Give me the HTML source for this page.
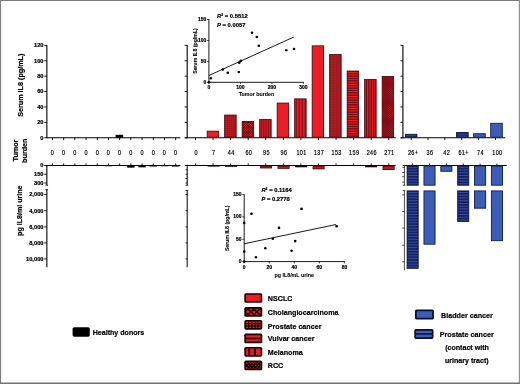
<!DOCTYPE html>
<html><head><meta charset="utf-8"><title>Figure</title>
<style>
html,body{margin:0;padding:0;background:#fff;}
body{width:520px;height:384px;overflow:hidden;font-family:"Liberation Sans",sans-serif;}
svg{display:block;font-family:"Liberation Sans",sans-serif;}
.b{font-weight:bold;stroke:#000;stroke-width:0.2px}
</style></head><body>
<svg width="520" height="384" viewBox="0 0 520 384">
<defs>
<pattern id="pgrid" width="1.6" height="1.6" patternUnits="userSpaceOnUse"><rect width="1.6" height="1.6" fill="#ee1c25"/><path d="M0 0.4H1.6M0.4 0V1.6" stroke="#4a0508" stroke-width="0.8"/></pattern>
<pattern id="pcross" width="2.2" height="2.2" patternUnits="userSpaceOnUse"><rect width="2.2" height="2.2" fill="#ee1c25"/><path d="M0 0L2.2 2.2M2.2 0L0 2.2" stroke="#4a0508" stroke-width="0.85"/></pattern>
<pattern id="pvert" width="2.4" height="4" patternUnits="userSpaceOnUse"><rect width="2.4" height="4" fill="#ee1c25"/><path d="M1.2 0V4" stroke="#4a0508" stroke-width="1"/></pattern>
<pattern id="pvert2" width="3" height="4" patternUnits="userSpaceOnUse"><rect width="3" height="4" fill="#ee1c25"/><path d="M1.5 0V4" stroke="#4a0508" stroke-width="1"/></pattern>
<pattern id="phorz" width="4" height="2.4" patternUnits="userSpaceOnUse"><rect width="4" height="2.4" fill="#ee1c25"/><path d="M0 1.2H4" stroke="#4a0508" stroke-width="1.1"/></pattern>
<pattern id="pxfine" width="1.6" height="1.6" patternUnits="userSpaceOnUse"><rect width="1.6" height="1.6" fill="#ee1c25"/><path d="M0 0L1.6 1.6M1.6 0L0 1.6" stroke="#4a0508" stroke-width="0.75"/></pattern>
<pattern id="pbh" width="4" height="2.6" patternUnits="userSpaceOnUse"><rect width="4" height="2.6" fill="#3c5cb8"/><path d="M0 1.3H4" stroke="#141c4a" stroke-width="1.7"/></pattern>
</defs>
<filter id="soft" x="0" y="0" width="520" height="384" filterUnits="userSpaceOnUse"><feGaussianBlur stdDeviation="0.4"/></filter>
<rect x="0" y="0" width="520" height="384" fill="#fff"/>
<g filter="url(#soft)">
<rect x="0" y="0" width="520" height="384" fill="#fff"/>

<line x1="46.85" y1="45.05" x2="46.85" y2="138.30" stroke="#000" stroke-width="1.1"/>
<line x1="44.25" y1="137.75" x2="46.85" y2="137.75" stroke="#000" stroke-width="0.9"/>
<text transform="translate(43.55 139.65) scale(0.9615 1)" font-size="5.98" text-anchor="end" class="b">0</text>
<line x1="44.25" y1="122.35" x2="46.85" y2="122.35" stroke="#000" stroke-width="0.9"/>
<text transform="translate(43.55 124.25) scale(0.9615 1)" font-size="5.98" text-anchor="end" class="b">20</text>
<line x1="44.25" y1="106.95" x2="46.85" y2="106.95" stroke="#000" stroke-width="0.9"/>
<text transform="translate(43.55 108.85) scale(0.9615 1)" font-size="5.98" text-anchor="end" class="b">40</text>
<line x1="44.25" y1="91.55" x2="46.85" y2="91.55" stroke="#000" stroke-width="0.9"/>
<text transform="translate(43.55 93.45) scale(0.9615 1)" font-size="5.98" text-anchor="end" class="b">60</text>
<line x1="44.25" y1="76.15" x2="46.85" y2="76.15" stroke="#000" stroke-width="0.9"/>
<text transform="translate(43.55 78.05) scale(0.9615 1)" font-size="5.98" text-anchor="end" class="b">80</text>
<line x1="44.25" y1="60.75" x2="46.85" y2="60.75" stroke="#000" stroke-width="0.9"/>
<text transform="translate(43.55 62.65) scale(0.9615 1)" font-size="5.98" text-anchor="end" class="b">100</text>
<line x1="44.25" y1="45.35" x2="46.85" y2="45.35" stroke="#000" stroke-width="0.9"/>
<text transform="translate(43.55 47.25) scale(0.9615 1)" font-size="5.98" text-anchor="end" class="b">120</text>
<line x1="46.85" y1="137.75" x2="180.30" y2="137.75" stroke="#000" stroke-width="1.1"/>
<line x1="52.45" y1="137.75" x2="52.45" y2="140.05" stroke="#000" stroke-width="0.9"/>
<text transform="translate(52.55 154.70) scale(0.7812 1)" font-size="7.00" text-anchor="middle" stroke="#000" stroke-width="0.2" letter-spacing="0.5">0</text>
<line x1="63.65" y1="137.75" x2="63.65" y2="140.05" stroke="#000" stroke-width="0.9"/>
<text transform="translate(63.75 154.70) scale(0.7812 1)" font-size="7.00" text-anchor="middle" stroke="#000" stroke-width="0.2" letter-spacing="0.5">0</text>
<line x1="74.85" y1="137.75" x2="74.85" y2="140.05" stroke="#000" stroke-width="0.9"/>
<text transform="translate(74.95 154.70) scale(0.7812 1)" font-size="7.00" text-anchor="middle" stroke="#000" stroke-width="0.2" letter-spacing="0.5">0</text>
<line x1="86.05" y1="137.75" x2="86.05" y2="140.05" stroke="#000" stroke-width="0.9"/>
<text transform="translate(86.15 154.70) scale(0.7812 1)" font-size="7.00" text-anchor="middle" stroke="#000" stroke-width="0.2" letter-spacing="0.5">0</text>
<line x1="97.25" y1="137.75" x2="97.25" y2="140.05" stroke="#000" stroke-width="0.9"/>
<text transform="translate(97.35 154.70) scale(0.7812 1)" font-size="7.00" text-anchor="middle" stroke="#000" stroke-width="0.2" letter-spacing="0.5">0</text>
<line x1="108.45" y1="137.75" x2="108.45" y2="140.05" stroke="#000" stroke-width="0.9"/>
<text transform="translate(108.55 154.70) scale(0.7812 1)" font-size="7.00" text-anchor="middle" stroke="#000" stroke-width="0.2" letter-spacing="0.5">0</text>
<line x1="119.65" y1="137.75" x2="119.65" y2="140.05" stroke="#000" stroke-width="0.9"/>
<text transform="translate(119.75 154.70) scale(0.7812 1)" font-size="7.00" text-anchor="middle" stroke="#000" stroke-width="0.2" letter-spacing="0.5">0</text>
<line x1="130.85" y1="137.75" x2="130.85" y2="140.05" stroke="#000" stroke-width="0.9"/>
<text transform="translate(130.95 154.70) scale(0.7812 1)" font-size="7.00" text-anchor="middle" stroke="#000" stroke-width="0.2" letter-spacing="0.5">0</text>
<line x1="142.05" y1="137.75" x2="142.05" y2="140.05" stroke="#000" stroke-width="0.9"/>
<text transform="translate(142.15 154.70) scale(0.7812 1)" font-size="7.00" text-anchor="middle" stroke="#000" stroke-width="0.2" letter-spacing="0.5">0</text>
<line x1="153.25" y1="137.75" x2="153.25" y2="140.05" stroke="#000" stroke-width="0.9"/>
<text transform="translate(153.35 154.70) scale(0.7812 1)" font-size="7.00" text-anchor="middle" stroke="#000" stroke-width="0.2" letter-spacing="0.5">0</text>
<line x1="164.45" y1="137.75" x2="164.45" y2="140.05" stroke="#000" stroke-width="0.9"/>
<text transform="translate(164.55 154.70) scale(0.7812 1)" font-size="7.00" text-anchor="middle" stroke="#000" stroke-width="0.2" letter-spacing="0.5">0</text>
<line x1="175.65" y1="137.75" x2="175.65" y2="140.05" stroke="#000" stroke-width="0.9"/>
<text transform="translate(175.75 154.70) scale(0.7812 1)" font-size="7.00" text-anchor="middle" stroke="#000" stroke-width="0.2" letter-spacing="0.5">0</text>
<rect x="115.60" y="134.80" width="7.60" height="3.00" fill="#000"/>
<line x1="46.85" y1="165.45" x2="180.30" y2="165.45" stroke="#000" stroke-width="1.1"/>
<line x1="52.45" y1="163.45" x2="52.45" y2="165.45" stroke="#000" stroke-width="0.9"/>
<line x1="63.65" y1="163.45" x2="63.65" y2="165.45" stroke="#000" stroke-width="0.9"/>
<line x1="74.85" y1="163.45" x2="74.85" y2="165.45" stroke="#000" stroke-width="0.9"/>
<line x1="86.05" y1="163.45" x2="86.05" y2="165.45" stroke="#000" stroke-width="0.9"/>
<line x1="97.25" y1="163.45" x2="97.25" y2="165.45" stroke="#000" stroke-width="0.9"/>
<line x1="108.45" y1="163.45" x2="108.45" y2="165.45" stroke="#000" stroke-width="0.9"/>
<line x1="119.65" y1="163.45" x2="119.65" y2="165.45" stroke="#000" stroke-width="0.9"/>
<line x1="130.85" y1="163.45" x2="130.85" y2="165.45" stroke="#000" stroke-width="0.9"/>
<line x1="142.05" y1="163.45" x2="142.05" y2="165.45" stroke="#000" stroke-width="0.9"/>
<line x1="153.25" y1="163.45" x2="153.25" y2="165.45" stroke="#000" stroke-width="0.9"/>
<line x1="164.45" y1="163.45" x2="164.45" y2="165.45" stroke="#000" stroke-width="0.9"/>
<line x1="175.65" y1="163.45" x2="175.65" y2="165.45" stroke="#000" stroke-width="0.9"/>
<line x1="46.85" y1="164.90" x2="46.85" y2="185.20" stroke="#000" stroke-width="1.1"/>
<line x1="46.85" y1="189.60" x2="46.85" y2="267.20" stroke="#000" stroke-width="1.1"/>
<line x1="45.25" y1="185.20" x2="48.05" y2="185.20" stroke="#000" stroke-width="0.8"/>
<line x1="45.25" y1="189.60" x2="48.05" y2="189.60" stroke="#000" stroke-width="0.8"/>
<line x1="44.25" y1="165.50" x2="46.85" y2="165.50" stroke="#000" stroke-width="0.9"/>
<text transform="translate(43.55 167.45) scale(0.9615 1)" font-size="5.98" text-anchor="end" class="b">0</text>
<line x1="44.25" y1="174.25" x2="46.85" y2="174.25" stroke="#000" stroke-width="0.9"/>
<text transform="translate(43.55 176.20) scale(0.9615 1)" font-size="5.98" text-anchor="end" class="b">150</text>
<line x1="44.25" y1="183.00" x2="46.85" y2="183.00" stroke="#000" stroke-width="0.9"/>
<text transform="translate(43.55 184.95) scale(0.9615 1)" font-size="5.98" text-anchor="end" class="b">300</text>
<line x1="44.25" y1="194.40" x2="46.85" y2="194.40" stroke="#000" stroke-width="0.9"/>
<text transform="translate(43.55 196.35) scale(0.9615 1)" font-size="5.98" text-anchor="end" class="b">2,000</text>
<line x1="44.25" y1="210.70" x2="46.85" y2="210.70" stroke="#000" stroke-width="0.9"/>
<text transform="translate(43.55 212.65) scale(0.9615 1)" font-size="5.98" text-anchor="end" class="b">4,000</text>
<line x1="44.25" y1="226.90" x2="46.85" y2="226.90" stroke="#000" stroke-width="0.9"/>
<text transform="translate(43.55 228.85) scale(0.9615 1)" font-size="5.98" text-anchor="end" class="b">6,000</text>
<line x1="44.25" y1="242.90" x2="46.85" y2="242.90" stroke="#000" stroke-width="0.9"/>
<text transform="translate(43.55 244.85) scale(0.9615 1)" font-size="5.98" text-anchor="end" class="b">8,000</text>
<line x1="44.25" y1="258.90" x2="46.85" y2="258.90" stroke="#000" stroke-width="0.9"/>
<text transform="translate(43.55 260.85) scale(0.9615 1)" font-size="5.98" text-anchor="end" class="b">10,000</text>
<rect x="104.75" y="165.45" width="7.40" height="0.80" fill="#000"/>
<rect x="127.15" y="165.45" width="7.40" height="2.20" fill="#000"/>
<rect x="138.35" y="165.45" width="7.40" height="1.90" fill="#000"/>
<rect x="149.55" y="165.45" width="7.40" height="1.10" fill="#000"/>
<rect x="160.75" y="165.45" width="7.40" height="0.80" fill="#000"/>
<rect x="171.95" y="165.45" width="7.40" height="1.10" fill="#000"/>
<text transform="translate(23.40 85.20) rotate(-90) scale(0.9524 1)" font-size="7.56" text-anchor="middle" class="b">Serum IL8 (pg/mL)</text>
<text transform="translate(18.40 150.50) rotate(-90) scale(0.9524 1)" font-size="7.56" text-anchor="middle" class="b">Tumor</text>
<text transform="translate(27.30 150.70) rotate(-90) scale(0.9524 1)" font-size="7.56" text-anchor="middle" class="b">burden</text>
<text transform="translate(22.20 210.70) rotate(-90) scale(0.9524 1)" font-size="7.46" text-anchor="middle" class="b">pg IL8/ml urine</text>
<line x1="187.20" y1="45.05" x2="187.20" y2="138.30" stroke="#000" stroke-width="1.1"/>
<line x1="184.60" y1="137.75" x2="187.20" y2="137.75" stroke="#000" stroke-width="0.9"/>
<line x1="184.60" y1="122.35" x2="187.20" y2="122.35" stroke="#000" stroke-width="0.9"/>
<line x1="184.60" y1="106.95" x2="187.20" y2="106.95" stroke="#000" stroke-width="0.9"/>
<line x1="184.60" y1="91.55" x2="187.20" y2="91.55" stroke="#000" stroke-width="0.9"/>
<line x1="184.60" y1="76.15" x2="187.20" y2="76.15" stroke="#000" stroke-width="0.9"/>
<line x1="184.60" y1="60.75" x2="187.20" y2="60.75" stroke="#000" stroke-width="0.9"/>
<line x1="184.60" y1="45.35" x2="187.20" y2="45.35" stroke="#000" stroke-width="0.9"/>
<line x1="184.80" y1="137.75" x2="395.60" y2="137.75" stroke="#000" stroke-width="1.1"/>
<line x1="195.50" y1="137.75" x2="195.50" y2="140.05" stroke="#000" stroke-width="0.9"/>
<text transform="translate(196.10 154.80) scale(0.7812 1)" font-size="7.00" text-anchor="middle" stroke="#000" stroke-width="0.2" letter-spacing="0.5">0</text>
<line x1="213.07" y1="137.75" x2="213.07" y2="140.05" stroke="#000" stroke-width="0.9"/>
<text transform="translate(213.67 154.80) scale(0.7812 1)" font-size="7.00" text-anchor="middle" stroke="#000" stroke-width="0.2" letter-spacing="0.5">7</text>
<line x1="230.64" y1="137.75" x2="230.64" y2="140.05" stroke="#000" stroke-width="0.9"/>
<text transform="translate(231.24 154.80) scale(0.7812 1)" font-size="7.00" text-anchor="middle" stroke="#000" stroke-width="0.2" letter-spacing="0.5">44</text>
<line x1="248.21" y1="137.75" x2="248.21" y2="140.05" stroke="#000" stroke-width="0.9"/>
<text transform="translate(248.81 154.80) scale(0.7812 1)" font-size="7.00" text-anchor="middle" stroke="#000" stroke-width="0.2" letter-spacing="0.5">60</text>
<line x1="265.78" y1="137.75" x2="265.78" y2="140.05" stroke="#000" stroke-width="0.9"/>
<text transform="translate(266.38 154.80) scale(0.7812 1)" font-size="7.00" text-anchor="middle" stroke="#000" stroke-width="0.2" letter-spacing="0.5">95</text>
<line x1="283.35" y1="137.75" x2="283.35" y2="140.05" stroke="#000" stroke-width="0.9"/>
<text transform="translate(283.95 154.80) scale(0.7812 1)" font-size="7.00" text-anchor="middle" stroke="#000" stroke-width="0.2" letter-spacing="0.5">96</text>
<line x1="300.92" y1="137.75" x2="300.92" y2="140.05" stroke="#000" stroke-width="0.9"/>
<text transform="translate(301.52 154.80) scale(0.7812 1)" font-size="7.00" text-anchor="middle" stroke="#000" stroke-width="0.2" letter-spacing="0.5">101</text>
<line x1="318.49" y1="137.75" x2="318.49" y2="140.05" stroke="#000" stroke-width="0.9"/>
<text transform="translate(319.09 154.80) scale(0.7812 1)" font-size="7.00" text-anchor="middle" stroke="#000" stroke-width="0.2" letter-spacing="0.5">137</text>
<line x1="336.06" y1="137.75" x2="336.06" y2="140.05" stroke="#000" stroke-width="0.9"/>
<text transform="translate(336.66 154.80) scale(0.7812 1)" font-size="7.00" text-anchor="middle" stroke="#000" stroke-width="0.2" letter-spacing="0.5">153</text>
<line x1="353.63" y1="137.75" x2="353.63" y2="140.05" stroke="#000" stroke-width="0.9"/>
<text transform="translate(354.23 154.80) scale(0.7812 1)" font-size="7.00" text-anchor="middle" stroke="#000" stroke-width="0.2" letter-spacing="0.5">159</text>
<line x1="371.20" y1="137.75" x2="371.20" y2="140.05" stroke="#000" stroke-width="0.9"/>
<text transform="translate(371.80 154.80) scale(0.7812 1)" font-size="7.00" text-anchor="middle" stroke="#000" stroke-width="0.2" letter-spacing="0.5">246</text>
<line x1="388.77" y1="137.75" x2="388.77" y2="140.05" stroke="#000" stroke-width="0.9"/>
<text transform="translate(389.37 154.80) scale(0.7812 1)" font-size="7.00" text-anchor="middle" stroke="#000" stroke-width="0.2" letter-spacing="0.5">271</text>
<clipPath id="c1"><rect x="207.15" y="131.15" width="11.50" height="6.10"/></clipPath>
<rect x="207.15" y="131.15" width="11.50" height="6.10" fill="#ee1c25"/>
<rect x="207.15" y="131.15" width="11.50" height="6.10" fill="none" stroke="#3c0508" stroke-width="0.8"/>
<clipPath id="c2"><rect x="224.65" y="115.05" width="11.50" height="22.20"/></clipPath>
<rect x="224.65" y="115.05" width="11.50" height="22.20" fill="#d81c23"/>
<path clip-path="url(#c2)" d="M225.65 115.05V137.25M227.65 115.05V137.25M229.65 115.05V137.25M231.65 115.05V137.25M233.65 115.05V137.25M235.65 115.05V137.25M224.65 136.25H236.15M224.65 134.25H236.15M224.65 132.25H236.15M224.65 130.25H236.15M224.65 128.25H236.15M224.65 126.25H236.15M224.65 124.25H236.15M224.65 122.25H236.15M224.65 120.25H236.15M224.65 118.25H236.15M224.65 116.25H236.15" stroke="#98141a" stroke-width="0.8" fill="none"/>
<rect x="224.65" y="115.05" width="11.50" height="22.20" fill="none" stroke="#3c0508" stroke-width="0.8"/>
<clipPath id="c3"><rect x="242.15" y="121.45" width="11.50" height="15.80"/></clipPath>
<rect x="242.15" y="121.45" width="11.50" height="15.80" fill="#e21c24"/>
<path clip-path="url(#c3)" d="M242.15 109.95L253.65 121.45M242.15 121.45L253.65 109.95M242.15 112.45L253.65 123.95M242.15 123.95L253.65 112.45M242.15 114.95L253.65 126.45M242.15 126.45L253.65 114.95M242.15 117.45L253.65 128.95M242.15 128.95L253.65 117.45M242.15 119.95L253.65 131.45M242.15 131.45L253.65 119.95M242.15 122.45L253.65 133.95M242.15 133.95L253.65 122.45M242.15 124.95L253.65 136.45M242.15 136.45L253.65 124.95M242.15 127.45L253.65 138.95M242.15 138.95L253.65 127.45M242.15 129.95L253.65 141.45M242.15 141.45L253.65 129.95M242.15 132.45L253.65 143.95M242.15 143.95L253.65 132.45M242.15 134.95L253.65 146.45M242.15 146.45L253.65 134.95M242.15 137.45L253.65 148.95M242.15 148.95L253.65 137.45M242.15 139.95L253.65 151.45M242.15 151.45L253.65 139.95M242.15 142.45L253.65 153.95M242.15 153.95L253.65 142.45M242.15 144.95L253.65 156.45M242.15 156.45L253.65 144.95M242.15 147.45L253.65 158.95M242.15 158.95L253.65 147.45" stroke="#4e070b" stroke-width="0.75" fill="none"/>
<rect x="242.15" y="121.45" width="11.50" height="15.80" fill="none" stroke="#3c0508" stroke-width="0.8"/>
<clipPath id="c4"><rect x="259.65" y="119.55" width="11.50" height="17.70"/></clipPath>
<rect x="259.65" y="119.55" width="11.50" height="17.70" fill="#dc1c24"/>
<path clip-path="url(#c4)" d="M261.45 119.55V137.25M263.85 119.55V137.25M266.25 119.55V137.25M268.65 119.55V137.25M271.05 119.55V137.25" stroke="#7e1016" stroke-width="1.0" fill="none"/>
<rect x="259.65" y="119.55" width="11.50" height="17.70" fill="none" stroke="#3c0508" stroke-width="0.8"/>
<clipPath id="c5"><rect x="277.15" y="103.05" width="11.50" height="34.20"/></clipPath>
<rect x="277.15" y="103.05" width="11.50" height="34.20" fill="#ee1c25"/>
<rect x="277.15" y="103.05" width="11.50" height="34.20" fill="none" stroke="#3c0508" stroke-width="0.8"/>
<clipPath id="c6"><rect x="294.65" y="98.85" width="11.50" height="38.40"/></clipPath>
<rect x="294.65" y="98.85" width="11.50" height="38.40" fill="#e21c24"/>
<path clip-path="url(#c6)" d="M296.25 98.85V137.25M299.25 98.85V137.25M302.25 98.85V137.25M305.25 98.85V137.25" stroke="#74101a" stroke-width="1.0" fill="none"/>
<rect x="294.65" y="98.85" width="11.50" height="38.40" fill="none" stroke="#3c0508" stroke-width="0.8"/>
<clipPath id="c7"><rect x="312.15" y="45.85" width="11.50" height="91.40"/></clipPath>
<rect x="312.15" y="45.85" width="11.50" height="91.40" fill="#ee1c25"/>
<rect x="312.15" y="45.85" width="11.50" height="91.40" fill="none" stroke="#3c0508" stroke-width="0.8"/>
<clipPath id="c8"><rect x="329.65" y="54.55" width="11.50" height="82.70"/></clipPath>
<rect x="329.65" y="54.55" width="11.50" height="82.70" fill="#d81c23"/>
<path clip-path="url(#c8)" d="M330.65 54.55V137.25M332.65 54.55V137.25M334.65 54.55V137.25M336.65 54.55V137.25M338.65 54.55V137.25M340.65 54.55V137.25M329.65 136.25H341.15M329.65 134.25H341.15M329.65 132.25H341.15M329.65 130.25H341.15M329.65 128.25H341.15M329.65 126.25H341.15M329.65 124.25H341.15M329.65 122.25H341.15M329.65 120.25H341.15M329.65 118.25H341.15M329.65 116.25H341.15M329.65 114.25H341.15M329.65 112.25H341.15M329.65 110.25H341.15M329.65 108.25H341.15M329.65 106.25H341.15M329.65 104.25H341.15M329.65 102.25H341.15M329.65 100.25H341.15M329.65 98.25H341.15M329.65 96.25H341.15M329.65 94.25H341.15M329.65 92.25H341.15M329.65 90.25H341.15M329.65 88.25H341.15M329.65 86.25H341.15M329.65 84.25H341.15M329.65 82.25H341.15M329.65 80.25H341.15M329.65 78.25H341.15M329.65 76.25H341.15M329.65 74.25H341.15M329.65 72.25H341.15M329.65 70.25H341.15M329.65 68.25H341.15M329.65 66.25H341.15M329.65 64.25H341.15M329.65 62.25H341.15M329.65 60.25H341.15M329.65 58.25H341.15M329.65 56.25H341.15" stroke="#98141a" stroke-width="0.8" fill="none"/>
<rect x="329.65" y="54.55" width="11.50" height="82.70" fill="none" stroke="#3c0508" stroke-width="0.8"/>
<clipPath id="c9"><rect x="347.15" y="71.05" width="11.50" height="66.20"/></clipPath>
<rect x="347.15" y="71.05" width="11.50" height="66.20" fill="#e61c24"/>
<path clip-path="url(#c9)" d="M347.15 136.05H358.65M347.15 133.65H358.65M347.15 131.25H358.65M347.15 128.85H358.65M347.15 126.45H358.65M347.15 124.05H358.65M347.15 121.65H358.65M347.15 119.25H358.65M347.15 116.85H358.65M347.15 114.45H358.65M347.15 112.05H358.65M347.15 109.65H358.65M347.15 107.25H358.65M347.15 104.85H358.65M347.15 102.45H358.65M347.15 100.05H358.65M347.15 97.65H358.65M347.15 95.25H358.65M347.15 92.85H358.65M347.15 90.45H358.65M347.15 88.05H358.65M347.15 85.65H358.65M347.15 83.25H358.65M347.15 80.85H358.65M347.15 78.45H358.65M347.15 76.05H358.65M347.15 73.65H358.65M347.15 71.25H358.65" stroke="#6a0c12" stroke-width="1.15" fill="none"/>
<rect x="347.15" y="71.05" width="11.50" height="66.20" fill="none" stroke="#3c0508" stroke-width="0.8"/>
<clipPath id="c10"><rect x="364.65" y="79.45" width="11.50" height="57.80"/></clipPath>
<rect x="364.65" y="79.45" width="11.50" height="57.80" fill="#e01c24"/>
<path clip-path="url(#c10)" d="M366.45 79.45V137.25M368.85 79.45V137.25M371.25 79.45V137.25M373.65 79.45V137.25M376.05 79.45V137.25" stroke="#6a0c12" stroke-width="1.0" fill="none"/>
<rect x="364.65" y="79.45" width="11.50" height="57.80" fill="none" stroke="#3c0508" stroke-width="0.8"/>
<clipPath id="c11"><rect x="382.15" y="76.45" width="11.50" height="60.80"/></clipPath>
<rect x="382.15" y="76.45" width="11.50" height="60.80" fill="#dc1c24"/>
<path clip-path="url(#c11)" d="M382.15 64.95L393.65 76.45M382.15 76.45L393.65 64.95M382.15 66.85L393.65 78.35M382.15 78.35L393.65 66.85M382.15 68.75L393.65 80.25M382.15 80.25L393.65 68.75M382.15 70.65L393.65 82.15M382.15 82.15L393.65 70.65M382.15 72.55L393.65 84.05M382.15 84.05L393.65 72.55M382.15 74.45L393.65 85.95M382.15 85.95L393.65 74.45M382.15 76.35L393.65 87.85M382.15 87.85L393.65 76.35M382.15 78.25L393.65 89.75M382.15 89.75L393.65 78.25M382.15 80.15L393.65 91.65M382.15 91.65L393.65 80.15M382.15 82.05L393.65 93.55M382.15 93.55L393.65 82.05M382.15 83.95L393.65 95.45M382.15 95.45L393.65 83.95M382.15 85.85L393.65 97.35M382.15 97.35L393.65 85.85M382.15 87.75L393.65 99.25M382.15 99.25L393.65 87.75M382.15 89.65L393.65 101.15M382.15 101.15L393.65 89.65M382.15 91.55L393.65 103.05M382.15 103.05L393.65 91.55M382.15 93.45L393.65 104.95M382.15 104.95L393.65 93.45M382.15 95.35L393.65 106.85M382.15 106.85L393.65 95.35M382.15 97.25L393.65 108.75M382.15 108.75L393.65 97.25M382.15 99.15L393.65 110.65M382.15 110.65L393.65 99.15M382.15 101.05L393.65 112.55M382.15 112.55L393.65 101.05M382.15 102.95L393.65 114.45M382.15 114.45L393.65 102.95M382.15 104.85L393.65 116.35M382.15 116.35L393.65 104.85M382.15 106.75L393.65 118.25M382.15 118.25L393.65 106.75M382.15 108.65L393.65 120.15M382.15 120.15L393.65 108.65M382.15 110.55L393.65 122.05M382.15 122.05L393.65 110.55M382.15 112.45L393.65 123.95M382.15 123.95L393.65 112.45M382.15 114.35L393.65 125.85M382.15 125.85L393.65 114.35M382.15 116.25L393.65 127.75M382.15 127.75L393.65 116.25M382.15 118.15L393.65 129.65M382.15 129.65L393.65 118.15M382.15 120.05L393.65 131.55M382.15 131.55L393.65 120.05M382.15 121.95L393.65 133.45M382.15 133.45L393.65 121.95M382.15 123.85L393.65 135.35M382.15 135.35L393.65 123.85M382.15 125.75L393.65 137.25M382.15 137.25L393.65 125.75M382.15 127.65L393.65 139.15M382.15 139.15L393.65 127.65M382.15 129.55L393.65 141.05M382.15 141.05L393.65 129.55M382.15 131.45L393.65 142.95M382.15 142.95L393.65 131.45M382.15 133.35L393.65 144.85M382.15 144.85L393.65 133.35M382.15 135.25L393.65 146.75M382.15 146.75L393.65 135.25M382.15 137.15L393.65 148.65M382.15 148.65L393.65 137.15M382.15 139.05L393.65 150.55M382.15 150.55L393.65 139.05M382.15 140.95L393.65 152.45M382.15 152.45L393.65 140.95M382.15 142.85L393.65 154.35M382.15 154.35L393.65 142.85M382.15 144.75L393.65 156.25M382.15 156.25L393.65 144.75M382.15 146.65L393.65 158.15M382.15 158.15L393.65 146.65M382.15 148.55L393.65 160.05M382.15 160.05L393.65 148.55" stroke="#5a0a0e" stroke-width="0.7" fill="none"/>
<rect x="382.15" y="76.45" width="11.50" height="60.80" fill="none" stroke="#3c0508" stroke-width="0.8"/>
<line x1="185.10" y1="165.45" x2="395.60" y2="165.45" stroke="#000" stroke-width="1.1"/>
<line x1="195.50" y1="163.45" x2="195.50" y2="165.45" stroke="#000" stroke-width="0.9"/>
<line x1="213.07" y1="163.45" x2="213.07" y2="165.45" stroke="#000" stroke-width="0.9"/>
<line x1="230.64" y1="163.45" x2="230.64" y2="165.45" stroke="#000" stroke-width="0.9"/>
<line x1="248.21" y1="163.45" x2="248.21" y2="165.45" stroke="#000" stroke-width="0.9"/>
<line x1="265.78" y1="163.45" x2="265.78" y2="165.45" stroke="#000" stroke-width="0.9"/>
<line x1="283.35" y1="163.45" x2="283.35" y2="165.45" stroke="#000" stroke-width="0.9"/>
<line x1="300.92" y1="163.45" x2="300.92" y2="165.45" stroke="#000" stroke-width="0.9"/>
<line x1="318.49" y1="163.45" x2="318.49" y2="165.45" stroke="#000" stroke-width="0.9"/>
<line x1="336.06" y1="163.45" x2="336.06" y2="165.45" stroke="#000" stroke-width="0.9"/>
<line x1="353.63" y1="163.45" x2="353.63" y2="165.45" stroke="#000" stroke-width="0.9"/>
<line x1="371.20" y1="163.45" x2="371.20" y2="165.45" stroke="#000" stroke-width="0.9"/>
<line x1="388.77" y1="163.45" x2="388.77" y2="165.45" stroke="#000" stroke-width="0.9"/>
<line x1="187.20" y1="164.90" x2="187.20" y2="185.30" stroke="#000" stroke-width="1.0"/>
<line x1="187.20" y1="190.50" x2="187.20" y2="267.20" stroke="#000" stroke-width="1.0"/>
<line x1="185.50" y1="185.30" x2="188.20" y2="185.30" stroke="#000" stroke-width="0.8"/>
<line x1="185.50" y1="190.50" x2="188.20" y2="190.50" stroke="#000" stroke-width="0.8"/>
<line x1="185.50" y1="169.80" x2="187.20" y2="169.80" stroke="#000" stroke-width="0.8"/>
<line x1="185.50" y1="174.20" x2="187.20" y2="174.20" stroke="#000" stroke-width="0.8"/>
<line x1="185.50" y1="178.50" x2="187.20" y2="178.50" stroke="#000" stroke-width="0.8"/>
<line x1="185.50" y1="183.00" x2="187.20" y2="183.00" stroke="#000" stroke-width="0.8"/>
<line x1="185.50" y1="194.50" x2="187.20" y2="194.50" stroke="#000" stroke-width="0.8"/>
<line x1="185.50" y1="210.70" x2="187.20" y2="210.70" stroke="#000" stroke-width="0.8"/>
<line x1="185.50" y1="226.90" x2="187.20" y2="226.90" stroke="#000" stroke-width="0.8"/>
<line x1="185.50" y1="242.90" x2="187.20" y2="242.90" stroke="#000" stroke-width="0.8"/>
<line x1="185.50" y1="258.90" x2="187.20" y2="258.90" stroke="#000" stroke-width="0.8"/>
<rect x="207.60" y="165.90" width="12.00" height="0.70" fill="#2a0406"/>
<rect x="225.10" y="165.90" width="12.00" height="0.90" fill="#2a0406"/>
<rect x="260.10" y="165.90" width="12.00" height="2.50" fill="#2a0406"/>
<rect x="260.80" y="166.35" width="10.60" height="1.40" fill="#c0161c"/>
<rect x="277.60" y="165.90" width="12.00" height="2.90" fill="#2a0406"/>
<rect x="278.30" y="166.35" width="10.60" height="1.80" fill="#c0161c"/>
<rect x="295.10" y="165.90" width="12.00" height="1.40" fill="#2a0406"/>
<rect x="312.60" y="165.90" width="12.00" height="3.40" fill="#2a0406"/>
<rect x="313.30" y="166.35" width="10.60" height="2.30" fill="#c0161c"/>
<rect x="365.10" y="165.90" width="12.00" height="1.40" fill="#2a0406"/>
<rect x="382.60" y="165.90" width="12.00" height="4.10" fill="#2a0406"/>
<rect x="383.30" y="166.35" width="10.60" height="3.00" fill="#c0161c"/>
<line x1="402.90" y1="45.05" x2="402.90" y2="138.30" stroke="#000" stroke-width="1.1"/>
<line x1="400.40" y1="137.75" x2="402.90" y2="137.75" stroke="#000" stroke-width="0.9"/>
<line x1="400.40" y1="122.35" x2="402.90" y2="122.35" stroke="#000" stroke-width="0.9"/>
<line x1="400.40" y1="106.95" x2="402.90" y2="106.95" stroke="#000" stroke-width="0.9"/>
<line x1="400.40" y1="91.55" x2="402.90" y2="91.55" stroke="#000" stroke-width="0.9"/>
<line x1="400.40" y1="76.15" x2="402.90" y2="76.15" stroke="#000" stroke-width="0.9"/>
<line x1="400.40" y1="60.75" x2="402.90" y2="60.75" stroke="#000" stroke-width="0.9"/>
<line x1="400.40" y1="45.35" x2="402.90" y2="45.35" stroke="#000" stroke-width="0.9"/>
<line x1="400.70" y1="137.75" x2="505.30" y2="137.75" stroke="#000" stroke-width="1.1"/>
<line x1="411.20" y1="137.75" x2="411.20" y2="140.05" stroke="#000" stroke-width="0.9"/>
<text transform="translate(413.10 155.30) scale(0.7812 1)" font-size="7.00" text-anchor="middle" stroke="#000" stroke-width="0.2" letter-spacing="0.5">26+</text>
<line x1="428.05" y1="137.75" x2="428.05" y2="140.05" stroke="#000" stroke-width="0.9"/>
<text transform="translate(429.95 155.30) scale(0.7812 1)" font-size="7.00" text-anchor="middle" stroke="#000" stroke-width="0.2" letter-spacing="0.5">36</text>
<line x1="444.90" y1="137.75" x2="444.90" y2="140.05" stroke="#000" stroke-width="0.9"/>
<text transform="translate(446.80 155.30) scale(0.7812 1)" font-size="7.00" text-anchor="middle" stroke="#000" stroke-width="0.2" letter-spacing="0.5">42</text>
<line x1="461.75" y1="137.75" x2="461.75" y2="140.05" stroke="#000" stroke-width="0.9"/>
<text transform="translate(463.65 155.30) scale(0.7812 1)" font-size="7.00" text-anchor="middle" stroke="#000" stroke-width="0.2" letter-spacing="0.5">61+</text>
<line x1="478.60" y1="137.75" x2="478.60" y2="140.05" stroke="#000" stroke-width="0.9"/>
<text transform="translate(480.50 155.30) scale(0.7812 1)" font-size="7.00" text-anchor="middle" stroke="#000" stroke-width="0.2" letter-spacing="0.5">74</text>
<line x1="495.45" y1="137.75" x2="495.45" y2="140.05" stroke="#000" stroke-width="0.9"/>
<text transform="translate(497.35 155.30) scale(0.7812 1)" font-size="7.00" text-anchor="middle" stroke="#000" stroke-width="0.2" letter-spacing="0.5">100</text>
<rect x="405.35" y="134.30" width="11.60" height="2.95" fill="#141c4a" stroke="#141c4a" stroke-width="0.9"/>
<line x1="406.15" y1="135.78" x2="416.15" y2="135.78" stroke="#3a58b4" stroke-width="0.9"/>
<rect x="456.56" y="132.50" width="11.60" height="4.75" fill="#141c4a" stroke="#141c4a" stroke-width="0.9"/>
<line x1="457.36" y1="134.07" x2="467.36" y2="134.07" stroke="#3a58b4" stroke-width="0.9"/>
<line x1="457.36" y1="136.06" x2="467.36" y2="136.06" stroke="#3a58b4" stroke-width="0.9"/>
<clipPath id="c12"><rect x="473.63" y="133.70" width="11.60" height="3.55"/></clipPath>
<rect x="473.63" y="133.70" width="11.60" height="3.55" fill="#3c5cb8"/>
<rect x="473.63" y="133.70" width="11.60" height="3.55" fill="none" stroke="#141c4a" stroke-width="0.9"/>
<clipPath id="c13"><rect x="490.70" y="123.30" width="11.60" height="13.95"/></clipPath>
<rect x="490.70" y="123.30" width="11.60" height="13.95" fill="#3c5cb8"/>
<rect x="490.70" y="123.30" width="11.60" height="13.95" fill="none" stroke="#141c4a" stroke-width="0.9"/>
<line x1="402.60" y1="165.45" x2="506.80" y2="165.45" stroke="#000" stroke-width="1.1"/>
<line x1="412.65" y1="163.45" x2="412.65" y2="165.45" stroke="#000" stroke-width="0.9"/>
<line x1="429.51" y1="163.45" x2="429.51" y2="165.45" stroke="#000" stroke-width="0.9"/>
<line x1="446.37" y1="163.45" x2="446.37" y2="165.45" stroke="#000" stroke-width="0.9"/>
<line x1="463.23" y1="163.45" x2="463.23" y2="165.45" stroke="#000" stroke-width="0.9"/>
<line x1="480.09" y1="163.45" x2="480.09" y2="165.45" stroke="#000" stroke-width="0.9"/>
<line x1="496.95" y1="163.45" x2="496.95" y2="165.45" stroke="#000" stroke-width="0.9"/>
<line x1="404.40" y1="164.90" x2="404.40" y2="185.30" stroke="#222" stroke-width="0.8"/>
<line x1="404.40" y1="190.50" x2="404.40" y2="270.40" stroke="#222" stroke-width="0.8"/>
<line x1="402.70" y1="185.30" x2="405.40" y2="185.30" stroke="#222" stroke-width="0.8"/>
<line x1="402.70" y1="190.50" x2="405.40" y2="190.50" stroke="#222" stroke-width="0.8"/>
<line x1="402.20" y1="167.30" x2="404.40" y2="167.30" stroke="#222" stroke-width="0.8"/>
<line x1="402.20" y1="172.50" x2="404.40" y2="172.50" stroke="#222" stroke-width="0.8"/>
<line x1="402.20" y1="176.70" x2="404.40" y2="176.70" stroke="#222" stroke-width="0.8"/>
<line x1="402.20" y1="182.20" x2="404.40" y2="182.20" stroke="#222" stroke-width="0.8"/>
<line x1="402.20" y1="194.90" x2="404.40" y2="194.90" stroke="#222" stroke-width="0.8"/>
<line x1="402.20" y1="211.50" x2="404.40" y2="211.50" stroke="#222" stroke-width="0.8"/>
<line x1="402.20" y1="228.10" x2="404.40" y2="228.10" stroke="#222" stroke-width="0.8"/>
<line x1="402.20" y1="245.20" x2="404.40" y2="245.20" stroke="#222" stroke-width="0.8"/>
<line x1="402.20" y1="261.80" x2="404.40" y2="261.80" stroke="#222" stroke-width="0.8"/>
<clipPath id="c14"><rect x="407.10" y="166.05" width="11.10" height="19.15"/></clipPath>
<rect x="407.10" y="166.05" width="11.10" height="19.15" fill="#172262"/>
<path clip-path="url(#c14)" d="M407.10 183.82H418.20M407.10 181.06H418.20M407.10 178.30H418.20M407.10 175.54H418.20M407.10 172.78H418.20M407.10 170.02H418.20M407.10 167.26H418.20" stroke="#3a56b2" stroke-width="0.85" fill="none"/>
<rect x="407.10" y="166.05" width="11.10" height="19.15" fill="none" stroke="#10163c" stroke-width="0.9"/>
<clipPath id="c15"><rect x="407.10" y="190.90" width="11.10" height="77.40"/></clipPath>
<rect x="407.10" y="190.90" width="11.10" height="77.40" fill="#172262"/>
<path clip-path="url(#c15)" d="M407.10 266.92H418.20M407.10 264.16H418.20M407.10 261.40H418.20M407.10 258.64H418.20M407.10 255.88H418.20M407.10 253.12H418.20M407.10 250.36H418.20M407.10 247.60H418.20M407.10 244.84H418.20M407.10 242.08H418.20M407.10 239.32H418.20M407.10 236.56H418.20M407.10 233.80H418.20M407.10 231.04H418.20M407.10 228.28H418.20M407.10 225.52H418.20M407.10 222.76H418.20M407.10 220.00H418.20M407.10 217.24H418.20M407.10 214.48H418.20M407.10 211.72H418.20M407.10 208.96H418.20M407.10 206.20H418.20M407.10 203.44H418.20M407.10 200.68H418.20M407.10 197.92H418.20M407.10 195.16H418.20M407.10 192.40H418.20" stroke="#3a56b2" stroke-width="0.85" fill="none"/>
<rect x="407.10" y="190.90" width="11.10" height="77.40" fill="none" stroke="#10163c" stroke-width="0.9"/>
<clipPath id="c16"><rect x="423.96" y="166.05" width="11.10" height="19.15"/></clipPath>
<rect x="423.96" y="166.05" width="11.10" height="19.15" fill="#3c5cb8"/>
<rect x="423.96" y="166.05" width="11.10" height="19.15" fill="none" stroke="#141c4a" stroke-width="0.9"/>
<clipPath id="c17"><rect x="423.96" y="190.90" width="11.10" height="53.30"/></clipPath>
<rect x="423.96" y="190.90" width="11.10" height="53.30" fill="#3c5cb8"/>
<rect x="423.96" y="190.90" width="11.10" height="53.30" fill="none" stroke="#141c4a" stroke-width="0.9"/>
<clipPath id="c18"><rect x="440.82" y="166.05" width="11.10" height="5.25"/></clipPath>
<rect x="440.82" y="166.05" width="11.10" height="5.25" fill="#3c5cb8"/>
<rect x="440.82" y="166.05" width="11.10" height="5.25" fill="none" stroke="#141c4a" stroke-width="0.9"/>
<clipPath id="c19"><rect x="457.68" y="166.05" width="11.10" height="19.15"/></clipPath>
<rect x="457.68" y="166.05" width="11.10" height="19.15" fill="#172262"/>
<path clip-path="url(#c19)" d="M457.68 183.82H468.78M457.68 181.06H468.78M457.68 178.30H468.78M457.68 175.54H468.78M457.68 172.78H468.78M457.68 170.02H468.78M457.68 167.26H468.78" stroke="#3a56b2" stroke-width="0.85" fill="none"/>
<rect x="457.68" y="166.05" width="11.10" height="19.15" fill="none" stroke="#10163c" stroke-width="0.9"/>
<clipPath id="c20"><rect x="457.68" y="190.90" width="11.10" height="30.50"/></clipPath>
<rect x="457.68" y="190.90" width="11.10" height="30.50" fill="#172262"/>
<path clip-path="url(#c20)" d="M457.68 220.02H468.78M457.68 217.26H468.78M457.68 214.50H468.78M457.68 211.74H468.78M457.68 208.98H468.78M457.68 206.22H468.78M457.68 203.46H468.78M457.68 200.70H468.78M457.68 197.94H468.78M457.68 195.18H468.78M457.68 192.42H468.78" stroke="#3a56b2" stroke-width="0.85" fill="none"/>
<rect x="457.68" y="190.90" width="11.10" height="30.50" fill="none" stroke="#10163c" stroke-width="0.9"/>
<clipPath id="c21"><rect x="474.54" y="166.05" width="11.10" height="19.15"/></clipPath>
<rect x="474.54" y="166.05" width="11.10" height="19.15" fill="#3c5cb8"/>
<rect x="474.54" y="166.05" width="11.10" height="19.15" fill="none" stroke="#141c4a" stroke-width="0.9"/>
<clipPath id="c22"><rect x="474.54" y="190.90" width="11.10" height="17.30"/></clipPath>
<rect x="474.54" y="190.90" width="11.10" height="17.30" fill="#3c5cb8"/>
<rect x="474.54" y="190.90" width="11.10" height="17.30" fill="none" stroke="#141c4a" stroke-width="0.9"/>
<clipPath id="c23"><rect x="491.40" y="166.05" width="11.10" height="19.15"/></clipPath>
<rect x="491.40" y="166.05" width="11.10" height="19.15" fill="#3c5cb8"/>
<rect x="491.40" y="166.05" width="11.10" height="19.15" fill="none" stroke="#141c4a" stroke-width="0.9"/>
<clipPath id="c24"><rect x="491.40" y="190.90" width="11.10" height="49.80"/></clipPath>
<rect x="491.40" y="190.90" width="11.10" height="49.80" fill="#3c5cb8"/>
<rect x="491.40" y="190.90" width="11.10" height="49.80" fill="none" stroke="#141c4a" stroke-width="0.9"/>
<line x1="208.90" y1="19.19" x2="208.90" y2="82.70" stroke="#000" stroke-width="0.9"/>
<line x1="208.90" y1="82.30" x2="303.70" y2="82.30" stroke="#000" stroke-width="0.9"/>
<line x1="206.90" y1="82.30" x2="208.90" y2="82.30" stroke="#000" stroke-width="0.7"/>
<text transform="translate(206.30 83.80) scale(0.9524 1)" font-size="5.25" text-anchor="end" class="b">0</text>
<line x1="206.90" y1="61.36" x2="208.90" y2="61.36" stroke="#000" stroke-width="0.7"/>
<text transform="translate(206.30 62.86) scale(0.9524 1)" font-size="5.25" text-anchor="end" class="b">50</text>
<line x1="206.90" y1="40.43" x2="208.90" y2="40.43" stroke="#000" stroke-width="0.7"/>
<text transform="translate(206.30 41.93) scale(0.9524 1)" font-size="5.25" text-anchor="end" class="b">100</text>
<line x1="206.90" y1="19.49" x2="208.90" y2="19.49" stroke="#000" stroke-width="0.7"/>
<text transform="translate(206.30 20.99) scale(0.9524 1)" font-size="5.25" text-anchor="end" class="b">150</text>
<line x1="208.90" y1="82.30" x2="208.90" y2="84.10" stroke="#000" stroke-width="0.7"/>
<text transform="translate(208.90 88.80) scale(0.9524 1)" font-size="5.25" text-anchor="middle" class="b">0</text>
<line x1="240.40" y1="82.30" x2="240.40" y2="84.10" stroke="#000" stroke-width="0.7"/>
<text transform="translate(240.40 88.80) scale(0.9524 1)" font-size="5.25" text-anchor="middle" class="b">100</text>
<line x1="271.90" y1="82.30" x2="271.90" y2="84.10" stroke="#000" stroke-width="0.7"/>
<text transform="translate(271.90 88.80) scale(0.9524 1)" font-size="5.25" text-anchor="middle" class="b">200</text>
<line x1="303.40" y1="82.30" x2="303.40" y2="84.10" stroke="#000" stroke-width="0.7"/>
<text transform="translate(303.40 88.80) scale(0.9524 1)" font-size="5.25" text-anchor="middle" class="b">300</text>
<line x1="208.90" y1="75.50" x2="293.90" y2="37.00" stroke="#000" stroke-width="0.9"/>
<circle cx="210.8" cy="78.3" r="1.3" fill="#000"/>
<circle cx="222.8" cy="69.5" r="1.3" fill="#000"/>
<circle cx="227.8" cy="72.8" r="1.3" fill="#000"/>
<circle cx="238.8" cy="72.0" r="1.3" fill="#000"/>
<circle cx="239.3" cy="62.8" r="1.3" fill="#000"/>
<circle cx="240.8" cy="60.8" r="1.3" fill="#000"/>
<circle cx="252.0" cy="32.8" r="1.3" fill="#000"/>
<circle cx="256.8" cy="37.0" r="1.3" fill="#000"/>
<circle cx="258.8" cy="45.8" r="1.3" fill="#000"/>
<circle cx="286.3" cy="50.3" r="1.3" fill="#000"/>
<circle cx="294.0" cy="49.0" r="1.3" fill="#000"/>
<circle cx="208.9" cy="82.3" r="1.3" fill="#000"/>
<text transform="translate(197.00 51.00) rotate(-90) scale(0.9524 1)" font-size="5.46" text-anchor="middle" class="b" style="stroke-width:0.08px">Serum IL8 (pg/mL)</text>
<text transform="translate(256.40 96.25) scale(0.9524 1)" font-size="5.57" text-anchor="middle" class="b" style="stroke-width:0.08px">Tumor burden</text>
<text transform="translate(217.0 17.9) scale(0.96 1)" font-size="6.1" class="b"><tspan font-style="italic">R</tspan><tspan font-size="3.6" dy="-2.1">2</tspan><tspan dy="2.1"> = 0.5512</tspan></text>
<text transform="translate(217.0 27.0) scale(0.96 1)" font-size="6.1" class="b"><tspan font-style="italic">P</tspan> = 0.0057</text>
<line x1="244.20" y1="194.30" x2="244.20" y2="262.00" stroke="#000" stroke-width="0.9"/>
<line x1="244.20" y1="261.60" x2="344.90" y2="261.60" stroke="#000" stroke-width="0.9"/>
<line x1="242.20" y1="261.60" x2="244.20" y2="261.60" stroke="#000" stroke-width="0.7"/>
<text transform="translate(241.60 263.10) scale(0.9524 1)" font-size="5.25" text-anchor="end" class="b">0</text>
<line x1="242.20" y1="239.27" x2="244.20" y2="239.27" stroke="#000" stroke-width="0.7"/>
<text transform="translate(241.60 240.77) scale(0.9524 1)" font-size="5.25" text-anchor="end" class="b">50</text>
<line x1="242.20" y1="216.93" x2="244.20" y2="216.93" stroke="#000" stroke-width="0.7"/>
<text transform="translate(241.60 218.43) scale(0.9524 1)" font-size="5.25" text-anchor="end" class="b">100</text>
<line x1="242.20" y1="194.60" x2="244.20" y2="194.60" stroke="#000" stroke-width="0.7"/>
<text transform="translate(241.60 196.10) scale(0.9524 1)" font-size="5.25" text-anchor="end" class="b">150</text>
<line x1="244.20" y1="261.60" x2="244.20" y2="263.40" stroke="#000" stroke-width="0.7"/>
<text transform="translate(244.20 268.70) scale(0.9524 1)" font-size="5.25" text-anchor="middle" class="b">0</text>
<line x1="269.25" y1="261.60" x2="269.25" y2="263.40" stroke="#000" stroke-width="0.7"/>
<text transform="translate(269.25 268.70) scale(0.9524 1)" font-size="5.25" text-anchor="middle" class="b">20</text>
<line x1="294.30" y1="261.60" x2="294.30" y2="263.40" stroke="#000" stroke-width="0.7"/>
<text transform="translate(294.30 268.70) scale(0.9524 1)" font-size="5.25" text-anchor="middle" class="b">40</text>
<line x1="319.35" y1="261.60" x2="319.35" y2="263.40" stroke="#000" stroke-width="0.7"/>
<text transform="translate(319.35 268.70) scale(0.9524 1)" font-size="5.25" text-anchor="middle" class="b">60</text>
<line x1="344.40" y1="261.60" x2="344.40" y2="263.40" stroke="#000" stroke-width="0.7"/>
<text transform="translate(344.40 268.70) scale(0.9524 1)" font-size="5.25" text-anchor="middle" class="b">80</text>
<line x1="244.20" y1="243.75" x2="336.10" y2="224.50" stroke="#000" stroke-width="0.9"/>
<circle cx="244.2" cy="222.9" r="1.3" fill="#000"/>
<circle cx="251.5" cy="213.8" r="1.3" fill="#000"/>
<circle cx="244.2" cy="251.6" r="1.3" fill="#000"/>
<circle cx="255.9" cy="257.3" r="1.3" fill="#000"/>
<circle cx="265.3" cy="248.2" r="1.3" fill="#000"/>
<circle cx="272.8" cy="238.8" r="1.3" fill="#000"/>
<circle cx="279.0" cy="227.9" r="1.3" fill="#000"/>
<circle cx="291.6" cy="250.8" r="1.3" fill="#000"/>
<circle cx="295.2" cy="241.1" r="1.3" fill="#000"/>
<circle cx="301.5" cy="208.9" r="1.3" fill="#000"/>
<circle cx="336.6" cy="226.3" r="1.3" fill="#000"/>
<circle cx="244.2" cy="261.6" r="1.3" fill="#000"/>
<text transform="translate(229.00 228.30) rotate(-90) scale(0.9524 1)" font-size="5.46" text-anchor="middle" class="b" style="stroke-width:0.08px">Serum IL8 (pg/mL)</text>
<text transform="translate(294.20 277.20) scale(0.9524 1)" font-size="5.57" text-anchor="middle" class="b" style="stroke-width:0.08px">pg IL8/mL urine</text>
<text transform="translate(261.4 191.9) scale(0.96 1)" font-size="6.1" class="b"><tspan font-style="italic">R</tspan><tspan font-size="3.6" dy="-2.1">2</tspan><tspan dy="2.1"> = 0.1164</tspan></text>
<text transform="translate(261.4 201.0) scale(0.96 1)" font-size="6.1" class="b"><tspan font-style="italic">P</tspan> = 0.2778</text>
<rect x="72.60" y="327.20" width="17.20" height="9.50" fill="#000" rx="1.6"/>
<text transform="translate(92.70 335.10) scale(0.9524 1)" font-size="7.46" text-anchor="start" class="b">Healthy donors</text>
<rect x="244.3" y="293.15" width="18.00" height="9.7" rx="1.6" fill="#140203"/>
<clipPath id="c25"><rect x="246.00" y="294.80" width="14.60" height="6.40" rx="0.6"/></clipPath>
<rect x="246.00" y="294.80" width="14.60" height="6.40" rx="0.6" fill="#ec1f28"/>
<text transform="translate(267.80 300.65) scale(0.9524 1)" font-size="7.51" text-anchor="start" class="b">NSCLC</text>
<rect x="244.3" y="307.05" width="18.00" height="9.7" rx="1.6" fill="#140203"/>
<clipPath id="c26"><rect x="246.00" y="308.70" width="14.60" height="6.40" rx="0.6"/></clipPath>
<rect x="246.00" y="308.70" width="14.60" height="6.40" rx="0.6" fill="#ec1f28"/>
<path clip-path="url(#c26)" d="M240.90 307.90L248.90 315.90M240.90 315.90L248.90 307.90M246.90 307.90L254.90 315.90M246.90 315.90L254.90 307.90M252.90 307.90L260.90 315.90M252.90 315.90L260.90 307.90M258.90 307.90L266.90 315.90M258.90 315.90L266.90 307.90" stroke="#140203" stroke-width="1.5" fill="none"/>
<text transform="translate(267.80 314.55) scale(0.9524 1)" font-size="7.51" text-anchor="start" class="b">Cholangiocarcinoma</text>
<rect x="244.3" y="319.95" width="18.00" height="9.7" rx="1.6" fill="#140203"/>
<clipPath id="c27"><rect x="246.00" y="321.60" width="14.60" height="6.40" rx="0.6"/></clipPath>
<rect x="246.00" y="321.60" width="14.60" height="6.40" rx="0.6" fill="#ec1f28"/>
<path clip-path="url(#c27)" d="M248.75 321.60V328.00M251.85 321.60V328.00M254.95 321.60V328.00M258.05 321.60V328.00M246.00 323.55H260.60M246.00 326.15H260.60" stroke="#140203" stroke-width="1.15" fill="none"/>
<text transform="translate(267.80 328.85) scale(0.9524 1)" font-size="7.51" text-anchor="start" class="b">Prostate cancer</text>
<rect x="244.3" y="333.55" width="18.00" height="9.7" rx="1.6" fill="#140203"/>
<clipPath id="c28"><rect x="246.00" y="335.20" width="14.60" height="6.40" rx="0.6"/></clipPath>
<rect x="246.00" y="335.20" width="14.60" height="6.40" rx="0.6" fill="#ec1f28"/>
<path clip-path="url(#c28)" d="M246.00 338.50H260.60" stroke="#140203" stroke-width="1.7" fill="none"/>
<text transform="translate(267.80 341.25) scale(0.9524 1)" font-size="7.51" text-anchor="start" class="b">Vulvar cancer</text>
<rect x="244.3" y="346.95" width="18.00" height="9.7" rx="1.6" fill="#140203"/>
<clipPath id="c29"><rect x="246.00" y="348.60" width="14.60" height="6.40" rx="0.6"/></clipPath>
<rect x="246.00" y="348.60" width="14.60" height="6.40" rx="0.6" fill="#ec1f28"/>
<path clip-path="url(#c29)" d="M249.20 348.60V355.00M254.90 348.60V355.00" stroke="#140203" stroke-width="2.0" fill="none"/>
<text transform="translate(267.80 354.65) scale(0.9524 1)" font-size="7.51" text-anchor="start" class="b">Melanoma</text>
<rect x="244.3" y="360.55" width="18.00" height="9.7" rx="1.6" fill="#140203"/>
<clipPath id="c30"><rect x="246.00" y="362.20" width="14.60" height="6.40" rx="0.6"/></clipPath>
<rect x="246.00" y="362.20" width="14.60" height="6.40" rx="0.6" fill="#ec1f28"/>
<path clip-path="url(#c30)" d="M243.20 361.40L251.20 369.40M243.20 369.40L251.20 361.40M246.50 361.40L254.50 369.40M246.50 369.40L254.50 361.40M249.80 361.40L257.80 369.40M249.80 369.40L257.80 361.40M253.10 361.40L261.10 369.40M253.10 369.40L261.10 361.40M256.40 361.40L264.40 369.40M256.40 369.40L264.40 361.40" stroke="#140203" stroke-width="1.25" fill="none"/>
<text transform="translate(267.80 368.25) scale(0.9524 1)" font-size="7.51" text-anchor="start" class="b">RCC</text>
<rect x="415.0" y="309.6" width="18.9" height="9.9" rx="1.6" fill="#0a0f28"/>
<rect x="416.7" y="311.3" width="15.5" height="6.5" rx="0.6" fill="#3e5cb6"/>
<text transform="translate(466.90 317.60) scale(0.9524 1)" font-size="7.51" text-anchor="middle" class="b">Bladder cancer</text>
<rect x="414.3" y="329.0" width="19.2" height="9.9" rx="1.6" fill="#0a0f28"/>
<rect x="416.0" y="330.7" width="15.8" height="2.5" rx="0.5" fill="#3e5cb6"/>
<rect x="416.0" y="334.8" width="15.8" height="2.4" rx="0.5" fill="#3e5cb6"/>
<text transform="translate(466.70 337.30) scale(0.9524 1)" font-size="7.56" text-anchor="middle" class="b">Prostate cancer</text>
<text transform="translate(467.00 350.20) scale(0.9524 1)" font-size="7.46" text-anchor="middle" class="b">(contact with</text>
<text transform="translate(466.80 363.40) scale(0.9524 1)" font-size="7.46" text-anchor="middle" class="b">urinary tract)</text>
</g>
<rect x="0" y="0" width="520" height="1" fill="#7a7a7a"/>
<rect x="0" y="0" width="1" height="384" fill="#7e7e7e"/><rect x="1" y="1" width="1" height="382" fill="#f0f0f0"/>
<rect x="518.8" y="0" width="1.2" height="384" fill="#909090"/>
<rect x="0" y="382.5" width="520" height="1.5" fill="#727272"/>
</svg></body></html>
